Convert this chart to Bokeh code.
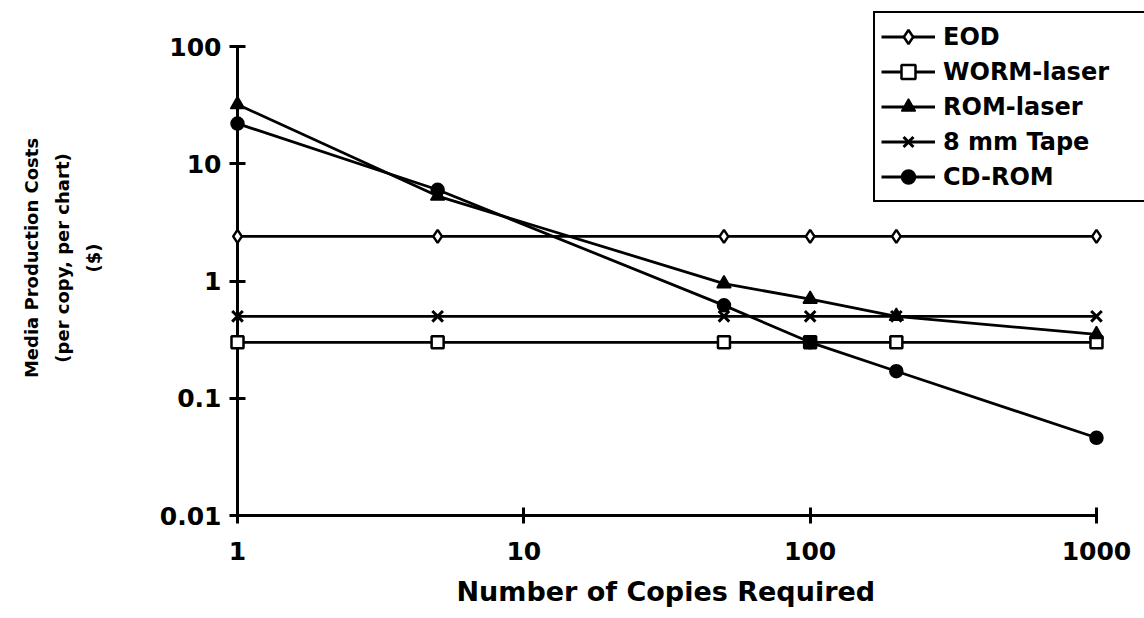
from bokeh.plotting import figure
from bokeh.models import FixedTicker, Legend, LegendItem, Range1d, Title
from bokeh.embed import file_html
from bokeh.resources import INLINE

# ---- data ----
copies = [1, 5, 50, 100, 200, 1000]
eod = [2.4, 2.4, 2.4, 2.4, 2.4, 2.4]
worm_laser = [0.3, 0.3, 0.3, 0.3, 0.3, 0.3]
rom_laser = [32, 5.3, 0.95, 0.7, 0.5, 0.35]
tape_8mm = [0.5, 0.5, 0.5, 0.5, 0.5, 0.5]
cd_rom = [22, 6.0, 0.62, 0.3, 0.17, 0.046]

series_names = ["EOD", "WORM-laser", "ROM-laser", "8 mm Tape", "CD-ROM"]
x_ticks = [1, 10, 100, 1000]
x_tick_labels = ["1", "10", "100", "1000"]
y_ticks = [0.01, 0.1, 1, 10, 100]
y_tick_labels = ["0.01", "0.1", "1", "10", "100"]
x_title = "Number of Copies Required"
y_title = "Media Production Costs\n(per copy, per chart)\n($)"

FONT = "DejaVu Sans"

# frame: left edge = x 1, bottom edge = y 0.01; extended up/right to hold the legend
p = figure(
    width=1144, height=618,
    x_axis_type="log", y_axis_type="log",
    x_range=Range1d(x_ticks[0], 1471.4), y_range=Range1d(y_ticks[0], 246.8),
    output_backend="svg", toolbar_location=None,
    min_border_left=237, min_border_right=0, min_border_top=0, min_border_bottom=103,
)
p.outline_line_color = None
p.grid.visible = False
p.background_fill_color = "white"
p.border_fill_color = "white"

for ax in (p.xaxis[0], p.yaxis[0]):
    ax.axis_line_width = 3
    ax.axis_line_color = "black"
    ax.major_tick_line_width = 3
    ax.major_tick_line_color = "black"
    ax.major_tick_in = 8
    ax.major_tick_out = 8
    ax.minor_tick_line_color = None
    ax.major_label_text_font = FONT
    ax.major_label_text_font_style = "bold"
    ax.major_label_text_font_size = "25px"
    ax.major_label_text_color = "black"
    ax.axis_label_text_font = FONT
    ax.axis_label_text_font_style = "bold"
    ax.axis_label_text_color = "black"

p.xaxis.ticker = FixedTicker(ticks=x_ticks)
p.yaxis.ticker = FixedTicker(ticks=y_ticks)
p.xaxis.bounds = (x_ticks[0], x_ticks[-1])
p.yaxis.bounds = (y_ticks[0], y_ticks[-1])
p.xaxis.major_label_overrides = dict(zip(x_ticks, x_tick_labels))
p.yaxis.major_label_overrides = dict(zip(y_ticks, y_tick_labels))

p.xaxis.major_label_standoff = 18
p.yaxis.major_label_standoff = 8

p.yaxis.axis_label = y_title
p.yaxis.axis_label_text_font_size = "18px"
p.yaxis.axis_label_text_line_height = 1.48
p.yaxis.axis_label_standoff = 53

p.add_layout(Title(text=x_title, align="left", offset=219, standoff=23,
                   text_font=FONT, text_font_style="bold", text_font_size="27px",
                   text_color="black"), "below")

LW = 2.8
items = []

def add_series(ys, label, **marker_kw):
    l = p.line(copies, ys, line_color="black", line_width=LW)
    s = p.scatter(copies, ys, line_color="black", **marker_kw)
    s.level = "overlay"
    items.append(LegendItem(label=label, renderers=[l, s]))

add_series(eod, series_names[0], marker="diamond", size=13, fill_color="white", line_width=2.5)
add_series(worm_laser, series_names[1], marker="square", size=12, fill_color="white", line_width=2.5)
add_series(rom_laser, series_names[2], marker="triangle", size=14, fill_color="black", line_width=1.5)
add_series(tape_8mm, series_names[3], marker="x", size=15, line_width=3)
add_series(cd_rom, series_names[4], marker="circle", size=13, fill_color="black", line_width=1.5)

legend = Legend(
    items=items,
    location=(636, 313),
    orientation="vertical",
    glyph_width=54, glyph_height=35,
    label_height=35, label_width=270, label_standoff=8,
    spacing=0, padding=6, margin=0,
    label_text_font=FONT, label_text_font_style="bold",
    label_text_font_size="24px", label_text_color="black",
    border_line_color="black", border_line_width=2.5, border_line_alpha=1.0,
    background_fill_color="white", background_fill_alpha=1.0,
)
p.add_layout(legend, "center")

open("out.html", "w").write(file_html(p, INLINE))
